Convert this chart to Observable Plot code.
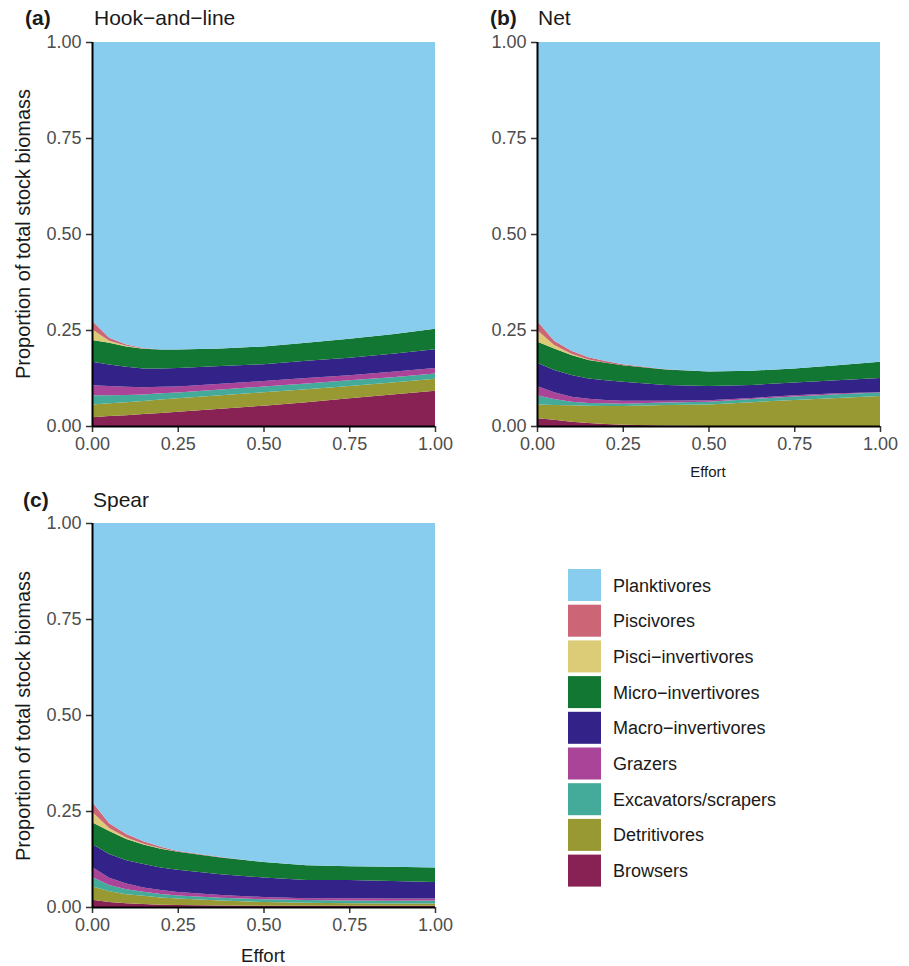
<!DOCTYPE html>
<html><head><meta charset="utf-8">
<script src="https://cdn.jsdelivr.net/npm/d3@7"></script>
<script src="https://cdn.jsdelivr.net/npm/@observablehq/plot@0.6"></script>
<style>
body{margin:0;background:#fff;}
#page{position:relative;width:909px;height:966px;font-family:"Liberation Sans",Arial,sans-serif;overflow:hidden;}
.panel{position:absolute;}
#overlay{position:absolute;left:0;top:0;pointer-events:none;}
</style></head><body><div id="page"></div>
<script>
// ---- data ----
const effort = [0, 0.05, 0.1, 0.15, 0.2, 0.25, 0.375, 0.5, 0.625, 0.75, 0.875, 1];
const groups = ["Browsers","Detritivores","Excavators/scrapers","Grazers","Macro\u2212invertivores","Micro\u2212invertivores","Pisci\u2212invertivores","Piscivores","Planktivores"];
const colors = ["#882255","#999933","#44AA99","#AA4499","#332288","#117733","#DDCC77","#CC6677","#88CCEE"];
const xTicks = [0, 0.25, 0.5, 0.75, 1];
const yTicks = [0, 0.25, 0.5, 0.75, 1];

// (a) Hook-and-line
const hookBrowsers     = [.023,.026,.028,.031,.034,.037,.045,.053,.062,.072,.082,.092];
const hookDetritivores = [.033,.033,.034,.034,.035,.035,.035,.035,.034,.032,.031,.031];
const hookExcavators   = [.024,.021,.019,.017,.016,.015,.015,.015,.015,.015,.014,.014];
const hookGrazers      = [.026,.024,.021,.019,.017,.016,.015,.014,.014,.013,.014,.014];
const hookMacro        = [.061,.056,.052,.049,.048,.048,.046,.044,.045,.046,.047,.049];
const hookMicro        = [.057,.057,.053,.051,.049,.048,.046,.046,.047,.049,.051,.053];
const hookPisciInv     = [.028,.005,.002,.001,0,0,0,0,0,0,0,0];
const hookPiscivores   = [.022,.008,.003,.001,0,0,0,0,0,0,0,0];
const hookPlanktivores = [.726,.770,.788,.797,.801,.801,.798,.793,.783,.773,.761,.747];

// (b) Net
const netBrowsers     = [.020,.016,.011,.008,.005,.003,.001,0,0,0,0,0];
const netDetritivores = [.036,.039,.043,.045,.047,.049,.054,.056,.062,.068,.073,.078];
const netExcavators   = [.024,.015,.009,.007,.007,.006,.006,.007,.008,.009,.010,.009];
const netGrazers      = [.024,.018,.013,.011,.009,.008,.005,.004,.003,.003,.002,.001];
const netMacro        = [.061,.058,.057,.053,.051,.049,.041,.037,.034,.033,.034,.037];
const netMicro        = [.055,.056,.052,.048,.046,.043,.040,.038,.037,.037,.039,.042];
const netPisciInv     = [.030,.009,.003,.001,0,0,0,0,0,0,0,0];
const netPiscivores   = [.024,.011,.008,.006,.004,.003,.001,0,0,0,0,0];
const netPlanktivores = [.726,.778,.804,.821,.831,.839,.852,.858,.856,.850,.842,.833];

// (c) Spear
const spearBrowsers     = [.019,.013,.010,.008,.006,.005,.004,.003,.003,.003,.003,.003];
const spearDetritivores = [.035,.028,.023,.021,.019,.017,.013,.010,.008,.007,.006,.006];
const spearExcavators   = [.024,.016,.013,.011,.009,.008,.007,.007,.007,.007,.007,.008];
const spearGrazers      = [.026,.019,.015,.011,.010,.009,.007,.006,.005,.006,.006,.005];
const spearMacro        = [.060,.062,.061,.061,.059,.058,.054,.051,.047,.047,.046,.043];
const spearMicro        = [.057,.060,.055,.051,.049,.047,.044,.040,.039,.036,.037,.038];
const spearPisciInv     = [.027,.008,.004,.002,.001,0,0,0,0,0,0,0];
const spearPiscivores   = [.026,.012,.009,.006,.004,.002,.001,0,0,0,0,0];
const spearPlanktivores = [.726,.782,.810,.829,.843,.854,.870,.883,.891,.894,.895,.897];

const panels = [
  {id:"a", left:0, top:0, series:[hookBrowsers,hookDetritivores,hookExcavators,hookGrazers,hookMacro,hookMicro,hookPisciInv,hookPiscivores,hookPlanktivores]},
  {id:"b", left:445, top:0, series:[netBrowsers,netDetritivores,netExcavators,netGrazers,netMacro,netMicro,netPisciInv,netPiscivores,netPlanktivores]},
  {id:"c", left:0, top:481, series:[spearBrowsers,spearDetritivores,spearExcavators,spearGrazers,spearMacro,spearMicro,spearPisciInv,spearPiscivores,spearPlanktivores]}
];

const page = document.getElementById("page");
const fmt = d3.format(".2f");

for (const p of panels) {
  const rows = [];
  effort.forEach((e, i) => groups.forEach((g, j) => rows.push({effort: e, group: g, value: p.series[j][i]})));
  const chart = Plot.plot({
    width: 450,
    height: 472,
    marginLeft: 92,
    marginRight: 15,
    marginTop: 42,
    marginBottom: 46,
    style: {fontSize: "18px", fontFamily: "'Liberation Sans', Arial, sans-serif", color: "#4d4d4d", background: "transparent", overflow: "visible"},
    x: {domain: [0, 1]},
    y: {domain: [0, 1]},
    color: {domain: groups, range: colors},
    marks: [
      Plot.areaY(rows, {x: "effort", y: "value", z: "group", fill: "group", order: groups}),
      Plot.axisX({ticks: xTicks, tickFormat: fmt, tickSize: 6, tickPadding: 5, label: null, stroke: "#333", strokeWidth: 1.5}),
      Plot.axisY({ticks: yTicks, tickFormat: fmt, tickSize: 6, tickPadding: 5, label: null, stroke: "#333", strokeWidth: 1.5}),
      Plot.ruleX([0], {stroke: "black", strokeWidth: 2}),
      Plot.ruleY([0], {stroke: "black", strokeWidth: 2})
    ]
  });
  chart.classList.add("panel");
  chart.style.left = p.left + "px";
  chart.style.top = p.top + "px";
  chart.style.position = "absolute";
  page.appendChild(chart);
}

// ---- overlay text & legend ----
const legendOrder = ["Planktivores","Piscivores","Pisci\u2212invertivores","Micro\u2212invertivores","Macro\u2212invertivores","Grazers","Excavators/scrapers","Detritivores","Browsers"];
const ns = "http://www.w3.org/2000/svg";
const svg = document.createElementNS(ns, "svg");
svg.setAttribute("id", "overlay");
svg.setAttribute("width", 909);
svg.setAttribute("height", 966);
svg.style.fontFamily = "'Liberation Sans', Arial, sans-serif";
function txt(s, x, y, opts = {}) {
  const t = document.createElementNS(ns, "text");
  t.textContent = s;
  t.setAttribute("x", x); t.setAttribute("y", y);
  t.setAttribute("font-size", opts.size || 18);
  t.setAttribute("fill", opts.fill || "#1a1a1a");
  if (opts.bold) t.setAttribute("font-weight", "bold");
  if (opts.anchor) t.setAttribute("text-anchor", opts.anchor);
  if (opts.transform) t.setAttribute("transform", opts.transform);
  svg.appendChild(t);
}
txt("(a)", 25, 25, {size: 21, bold: true});
txt("Hook\u2212and\u2212line", 94, 25, {size: 21});
txt("(b)", 490, 25, {size: 21, bold: true});
txt("Net", 538, 25, {size: 21});
txt("(c)", 23, 507, {size: 21, bold: true});
txt("Spear", 93, 507, {size: 21});
txt("Proportion of total stock biomass", 0, 0, {size: 20, anchor: "middle", transform: "translate(30,234) rotate(-90)"});
txt("Proportion of total stock biomass", 0, 0, {size: 20, anchor: "middle", transform: "translate(30,716) rotate(-90)"});
txt("Effort", 708, 477, {size: 15, anchor: "middle"});
txt("Effort", 263, 962, {size: 18.5, anchor: "middle"});
legendOrder.forEach((g, i) => {
  const y = 569 + i * 35.7;
  const r = document.createElementNS(ns, "rect");
  r.setAttribute("x", 568); r.setAttribute("y", y);
  r.setAttribute("width", 33); r.setAttribute("height", 32);
  r.setAttribute("fill", colors[groups.indexOf(g)]);
  svg.appendChild(r);
  txt(g, 613, y + 22.5, {size: 18});
});
page.appendChild(svg);
</script>
</body></html>
